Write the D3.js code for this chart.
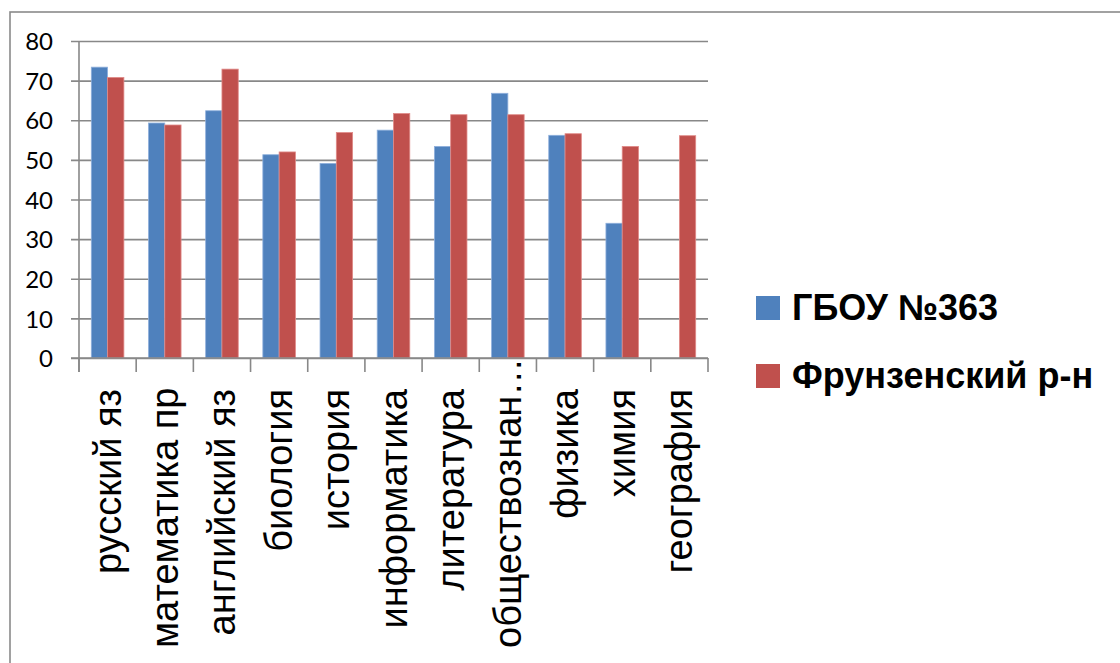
<!DOCTYPE html>
<html>
<head>
<meta charset="utf-8">
<script src="https://cdn.jsdelivr.net/npm/d3@7"></script>
<style>
  body { margin: 0; background: #fff; }
  svg { display: block; }
</style>
</head>
<body>
<div class="visualization"></div>
<script>
const subjects = [
  "русский яз", "математика пр", "английский яз", "биология", "история",
  "информатика", "литература", "обществознан…", "физика", "химия", "география"
];
const seriesNames = ["ГБОУ №363", "Фрунзенский р-н"];
const schoolScores = [73.4, 59.3, 62.4, 51.3, 49.1, 57.5, 53.4, 66.8, 56.2, 34.0, null];
const districtScores = [70.8, 58.8, 72.9, 52.0, 56.9, 61.7, 61.4, 61.4, 56.6, 53.4, 56.1];
const yTicks = [0, 10, 20, 30, 40, 50, 60, 70, 80];
const colors = ["#4f81bd", "#c0504d"];

const width = 1120;
const height = 663;
const plot = { left: 79, right: 708, top: 41, bottom: 358 };

const svg = d3.select(".visualization")
  .append("svg")
  .attr("width", width)
  .attr("height", height);

// outer chart frame (cut off on right and bottom)
svg.append("rect")
  .attr("x", 10)
  .attr("y", 12)
  .attr("width", width + 20)
  .attr("height", height + 20)
  .attr("fill", "none")
  .attr("stroke", "#8a8a8a")
  .attr("stroke-width", 1.6);

const xScale = d3.scaleBand()
  .domain(subjects)
  .range([plot.left, plot.right]);

const xInner = d3.scaleBand()
  .domain(seriesNames)
  .range([0, xScale.bandwidth()])
  .paddingOuter(0.755);

const yScale = d3.scaleLinear()
  .domain([0, 80])
  .range([plot.bottom, plot.top]);

// gridlines + y labels
const yAxis = d3.axisLeft(yScale)
  .tickValues(yTicks)
  .tickFormat(d3.format("d"));

const yGroup = svg.append("g")
  .attr("transform", `translate(${plot.right}, 0)`)
  .call(yAxis);

yGroup.select(".domain").remove();
yGroup.selectAll(".tick line")
  .attr("x1", 0)
  .attr("x2", -(plot.right - plot.left + 8))
  .attr("stroke", "#888")
  .attr("stroke-width", 1.6);
yGroup.selectAll(".tick text")
  .attr("x", -(plot.right - 53))
  .attr("text-anchor", "end")
  .attr("dy", "0.36em")
  .style("font-family", "Lato, 'Liberation Sans', sans-serif")
  .style("font-size", "24px")
  .attr("fill", "#000");

// bars
const rows = subjects.map((s, i) => ({
  subject: s,
  values: [schoolScores[i], districtScores[i]],
}));

const groups = svg.selectAll(".group")
  .data(rows)
  .enter()
  .append("g")
  .attr("class", "group")
  .attr("transform", (d) => `translate(${xScale(d.subject)}, 0)`);

groups.selectAll("rect")
  .data((d) => d.values.map((v, j) => ({ name: seriesNames[j], value: v, j: j })).filter((e) => e.value !== null))
  .enter()
  .append("rect")
  .attr("x", (d) => xInner(d.name))
  .attr("y", (d) => yScale(d.value))
  .attr("width", xInner.bandwidth())
  .attr("height", (d) => yScale(0) - yScale(d.value))
  .attr("fill", (d) => colors[d.j])
  .attr("stroke", (d) => d.j === 0 ? "#8fb0dc" : "#e08a88")
  .attr("stroke-width", 0.8);

// x axis with category ticks at band edges
const xAxisGroup = svg.append("g");
xAxisGroup.append("line")
  .attr("x1", plot.left - 8)
  .attr("x2", plot.right)
  .attr("y1", plot.bottom)
  .attr("y2", plot.bottom)
  .attr("stroke", "#888")
  .attr("stroke-width", 1.6);

xAxisGroup.append("line")
  .attr("x1", plot.left)
  .attr("x2", plot.left)
  .attr("y1", plot.top)
  .attr("y2", plot.bottom + 14)
  .attr("stroke", "#888")
  .attr("stroke-width", 1.6);

const edges = subjects.map((s) => xScale(s)).concat([plot.right]);
xAxisGroup.selectAll(".xtick")
  .data(edges)
  .enter()
  .append("line")
  .attr("x1", (d) => d)
  .attr("x2", (d) => d)
  .attr("y1", plot.bottom)
  .attr("y2", plot.bottom + 14)
  .attr("stroke", "#888")
  .attr("stroke-width", 1.6);

// rotated category labels; long ones get pushed up so they stay inside the frame
const labelTop = 389;
const labelLimit = 648;
const catLabels = svg.selectAll(".cat")
  .data(subjects)
  .enter()
  .append("text")
  .attr("class", "cat")
  .attr("text-anchor", "start")
  .style("font-family", "'Liberation Sans', Arial, sans-serif")
  .style("font-size", "38px")
  .attr("fill", "#000")
  .text((d) => d);

catLabels.each(function (d) {
  const len = this.getComputedTextLength();
  const start = Math.min(labelTop, labelLimit - len);
  d3.select(this).attr(
    "transform",
    `translate(${xScale(d) + xScale.bandwidth() / 2 + 13}, ${start + len}) rotate(-90)`
  );
});

// legend
const legend = svg.selectAll(".legend")
  .data(seriesNames)
  .enter()
  .append("g")
  .attr("class", "legend")
  .attr("transform", (d, i) => `translate(756, ${296 + i * 68})`);

legend.append("rect")
  .attr("width", 24)
  .attr("height", 24)
  .attr("fill", (d, i) => colors[i]);

legend.append("text")
  .attr("x", 36)
  .attr("y", 24)
  .style("font-family", "'Liberation Sans', Arial, sans-serif")
  .style("font-weight", "bold")
  .style("font-size", "36px")
  .attr("fill", "#000")
  .text((d) => d);
</script>
</body>
</html>
